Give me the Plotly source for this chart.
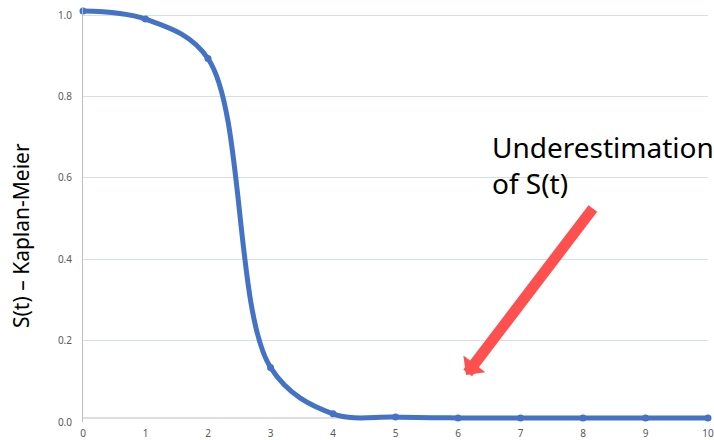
import plotly.graph_objects as go

# Data
time_points = [0, 1, 2, 3, 4, 5, 6, 7, 8, 9, 10]
survival_km = [1.01, 0.99, 0.893, 0.134, 0.02, 0.012, 0.01, 0.01, 0.01, 0.01, 0.01]
y_ticks = [0.0, 0.2, 0.4, 0.6, 0.8, 1.0]
x_ticks = list(range(0, 11))

y_title = "S(t) – Kaplan-Meier"
note_text = "Underestimation<br>of S(t)"

LINE_BLUE = "#4472C4"
ARROW_RED = "#FF5050"
GRID = "#D6DEEC"
AXIS_GRAY = "#BFBFBF"
TICK_GRAY = "#595959"
FONT = "Noto Sans"

PX_PER_UNIT = 407.0            # vertical pixels per 1.0 of S(t)
Y_TOP = 1.0 + 7 / PX_PER_UNIT  # small headroom so the first point is not clipped

fig = go.Figure()
fig.add_trace(go.Scatter(
    x=time_points, y=survival_km,
    mode="lines+markers",
    line=dict(color=LINE_BLUE, width=5, shape="spline", smoothing=1.0),
    marker=dict(color=LINE_BLUE, size=7),
    cliponaxis=False,
    showlegend=False,
    hoverinfo="skip",
))

# Gray horizontal axis line (drawn slightly above 0, like the reference)
fig.add_shape(type="line", xref="paper", yref="y", x0=0, x1=1, y0=0.0098, y1=0.0098,
              line=dict(color=AXIS_GRAY, width=1), layer="below")

# plot area spans page y 8..422 -> paper y = (422 - py) / 414
def py(page_y):
    return (422 - page_y) / 414.0

# Y title
fig.add_annotation(text=y_title, xref="paper", yref="paper",
                   x=(21 - 83) / 625, y=py(236),
                   xanchor="center", yanchor="middle", textangle=-90,
                   showarrow=False, font=dict(family=FONT, size=21, color="#000000"))

# Callout text
fig.add_annotation(text=note_text, xref="paper", yref="paper",
                   x=(490 - 83) / 625, y=py(126),
                   xanchor="left", yanchor="top", align="left",
                   showarrow=False, font=dict(family=FONT, size=28, color="#000000"))

# Red arrow
fig.add_annotation(text="", xref="x", yref="y",
                   x=(466 - 83) / 62.5, y=(422 - 375) / PX_PER_UNIT,
                   ax=128, ay=-168, axref="pixel", ayref="pixel",
                   showarrow=True, arrowhead=1, arrowsize=0.42, arrowwidth=11,
                   arrowcolor=ARROW_RED, standoff=0)

fig.update_layout(
    width=714, height=440,
    margin=dict(l=83, r=6, t=8, b=18, autoexpand=False),
    plot_bgcolor="white", paper_bgcolor="white",
    font=dict(family=FONT, size=10, color=TICK_GRAY),
    xaxis=dict(range=[0, 10], tickvals=x_ticks, showgrid=False, zeroline=False,
               showline=False, ticks="outside", ticklen=2, tickcolor="rgba(0,0,0,0)",
               automargin=False, ticklabeloverflow="allow",
               tickfont=dict(size=10, color=TICK_GRAY), fixedrange=True),
    yaxis=dict(range=[0, Y_TOP], tickvals=y_ticks, tickformat=".1f", showgrid=True,
               gridcolor=GRID, gridwidth=1, zeroline=False,
               showline=True, linecolor=AXIS_GRAY, linewidth=1,
               ticks="outside", ticklen=8, tickcolor="rgba(0,0,0,0)", automargin=False,
               ticklabeloverflow="allow",
               tickfont=dict(size=10, color=TICK_GRAY), fixedrange=True),
)

fig.write_html(
    "out.html",
    config={"displayModeBar": False, "staticPlot": True},
    post_script=(
        "document.body.style.margin='0';"
        "document.documentElement.style.overflow='hidden';"
        "document.body.style.overflow='hidden';"
    ),
)
